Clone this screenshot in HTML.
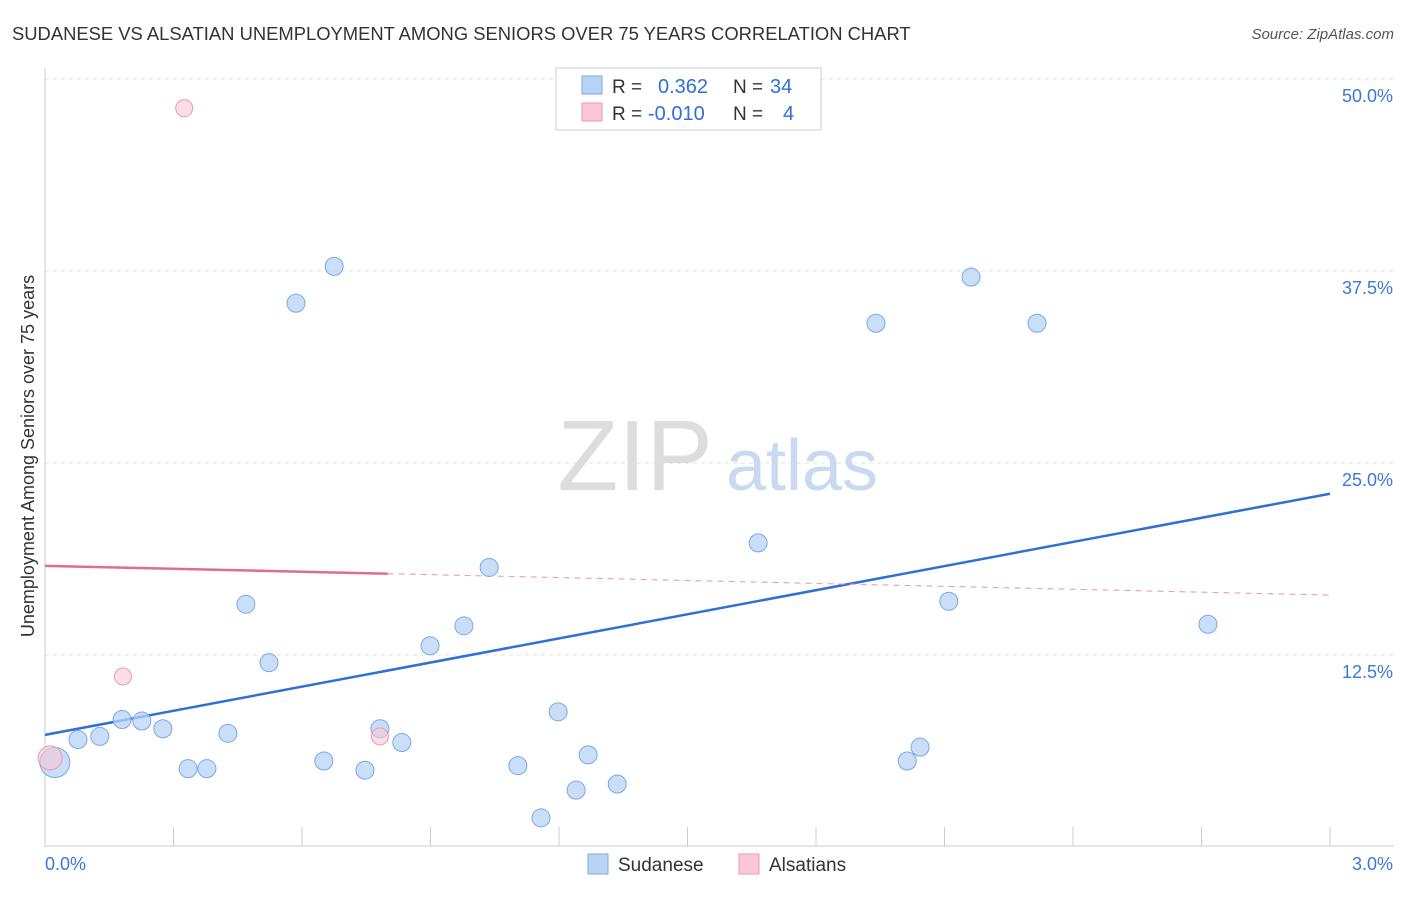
<!DOCTYPE html>
<html><head><meta charset="utf-8"><style>
body{margin:0;background:#fff;font-family:"Liberation Sans",sans-serif;}
svg text{font-family:"Liberation Sans",sans-serif;}
</style></head><body>
<svg id="chart" width="1406" height="892">
<text x="12" y="40" font-size="18.4" fill="#333">SUDANESE VS ALSATIAN UNEMPLOYMENT AMONG SENIORS OVER 75 YEARS CORRELATION CHART</text>
<text x="1394" y="39" font-size="15" fill="#555" text-anchor="end" font-style="italic">Source: ZipAtlas.com</text>
<text transform="translate(34,456) rotate(-90)" font-size="18" fill="#333" text-anchor="middle">Unemployment Among Seniors over 75 years</text>
<g id="grid"></g>
<g id="watermark">
<text x="635" y="490" font-size="100" fill="#ddd" font-family="Liberation Serif" text-anchor="middle">ZIP</text>
<text x="802" y="490" font-size="72" fill="#c9d9f0" text-anchor="middle">atlas</text>
</g>
<g id="lines"></g>
<g id="points"></g>
<g>
<rect x="556" y="68" width="265" height="62" fill="#fff" stroke="#ccc"/>
<rect x="582" y="76" width="20" height="18" fill="#b8d3f5" stroke="#7aa8e6"/>
<text x="612" y="93" font-size="19" fill="#333">R =</text><text x="658" y="93" font-size="20" fill="#2f6fd6">0.362</text>
<text x="733" y="93" font-size="19" fill="#333">N =</text><text x="770" y="93" font-size="20" fill="#2f6fd6">34</text>
<rect x="582" y="103" width="20" height="18" fill="#f8c8d6" stroke="#eb98b2"/>
<text x="612" y="120" font-size="19" fill="#333">R =</text><text x="648" y="120" font-size="20" fill="#2f6fd6">-0.010</text>
<text x="733" y="120" font-size="19" fill="#333">N =</text><text x="783" y="120" font-size="20" fill="#2f6fd6">4</text>
</g>
<g>
<rect x="588" y="854" width="20" height="20" fill="#b8d3f5" stroke="#7aa8e6"/>
<text x="618" y="871" font-size="19" fill="#333">Sudanese</text>
<rect x="739" y="854" width="20" height="20" fill="#f8c8d6" stroke="#eb98b2"/>
<text x="769" y="871" font-size="19" fill="#333">Alsatians</text>
</g>
</svg>
<script>
const sudX=[0.023,0.077,0.128,0.18,0.226,0.275,0.334,0.378,0.427,0.469,0.523,0.586,0.651,0.675,0.747,0.782,0.833,0.899,0.978,1.037,1.104,1.158,1.198,1.24,1.268,1.336,1.665,1.94,2.013,2.043,2.11,2.162,2.316,2.715];
const sudY=[5.5,7.0,7.2,8.3,8.2,7.7,5.1,5.1,7.4,15.8,12.0,35.4,5.6,37.8,5.0,7.7,6.8,13.1,14.4,18.2,5.3,1.9,8.8,3.7,6.0,4.1,19.8,34.1,5.6,6.5,16.0,37.1,34.1,14.5];
const alsX=[0.012,0.182,0.325,0.782];
const alsY=[5.8,11.1,48.1,7.2];
const yTicks=[12.5,25.0,37.5,50.0];
const xTickLabels=["0.0%","3.0%"];
const sudTrend=[7.3,23.0];
const alsTrend=[18.3,16.4];
const NS="http://www.w3.org/2000/svg";
const X=v=>45+v/3*1285, Y=v=>847-v/50*768;
function mk(p,t,a){const e=document.createElementNS(NS,t);for(const k in a)e.setAttribute(k,a[k]);document.getElementById(p).appendChild(e);return e;}
yTicks.forEach(t=>{
 const l=mk('grid','line',{x1:45,x2:1394,y1:Y(t),y2:Y(t),stroke:'#e2e2e2','stroke-dasharray':'4,4'});
 
 
 const tx=mk('grid','text',{x:1393,y:Y(t)+23,'font-size':18,fill:'#3a78d8','text-anchor':'end'});tx.textContent=t.toFixed(1)+'%';
 
 
});
mk('grid','line',{x1:45,x2:45,y1:68,y2:847,stroke:'#ccc'});
mk('grid','line',{x1:45,x2:1394,y1:846,y2:846,stroke:'#ccc'});
for(let i=1;i<=10;i++){mk('grid','line',{x1:X(i*0.3),x2:X(i*0.3),y1:827,y2:846,stroke:'#ccc'});}
xTickLabels.forEach((s,i)=>{const tx=mk('grid','text',{x:i?1393:45,y:870,'font-size':18,fill:'#3a78d8','text-anchor':i?'end':'start'});tx.textContent=s;
 
 });
let l1=mk('lines','line',{x1:X(0),y1:Y(sudTrend[0]),x2:X(3),y2:Y(sudTrend[1]),stroke:'#2f6fd6','stroke-width':2.5});


const ax=0.8, ay=alsTrend[0]+(alsTrend[1]-alsTrend[0])*ax/3;
let l2=mk('lines','line',{x1:X(0),y1:Y(alsTrend[0]),x2:X(ax),y2:Y(ay),stroke:'#e06b93','stroke-width':2.5});


let l3=mk('lines','line',{x1:X(ax),y1:Y(ay),x2:X(3),y2:Y(alsTrend[1]),stroke:'#e8a0b8','stroke-width':1.2,'stroke-dasharray':'6,5'});


sudX.forEach((x,i)=>{const c=mk('points','circle',{cx:X(x),cy:Y(sudY[i]),r:i==0?15:9,fill:'rgba(184,211,245,0.75)',stroke:'#7aa8e6','stroke-width':1});
 
 });
alsX.forEach((x,i)=>{const c=mk('points','circle',{cx:X(x),cy:Y(alsY[i]),r:i==0?12:8.5,fill:'rgba(248,200,214,0.6)',stroke:'#eb98b2','stroke-width':1});
 
 });
</script>
</body></html>
